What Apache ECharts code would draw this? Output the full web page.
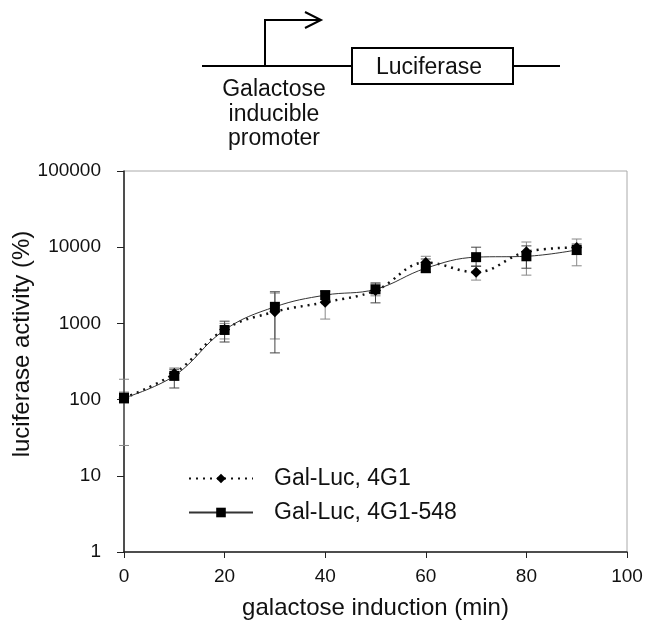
<!DOCTYPE html>
<html>
<head>
<meta charset="utf-8">
<script src="https://cdn.jsdelivr.net/npm/echarts@6/dist/echarts.min.js"></script>
<style>
  html, body { margin: 0; padding: 0; background: #fff; }
  #chart { width: 647px; height: 623px; }
</style>
</head>
<body>
<div id="chart"></div>
<script>
// Data
const minutes = [0, 10, 20, 30, 40, 50, 60, 70, 80, 90];
const gal4G1 = [105, 220, 830, 1420, 1900, 2700, 6300, 4700, 8700, 9900];
const gal4G1Low = [25, 180, 625, 625, 1140, 2300, 4700, 3700, 4300, 5700];
const gal4G1High = [185, 260, 1000, 2500, 2650, 3300, 7600, 5700, 11700, 12800];
const gal548 = [105, 205, 820, 1650, 2350, 2800, 5300, 7400, 7600, 9200];
const gal548Low = [90, 142, 570, 410, 1900, 1860, 4700, 5600, 5300, 8000];
const gal548High = [125, 250, 1070, 2600, 2650, 3400, 7000, 10000, 10400, 11000];
const xTicks = [0, 20, 40, 60, 80, 100];
const yTicks = [1, 10, 100, 1000, 10000, 100000];

const FONT = 'Liberation Sans';
const BIG = '23px "Liberation Sans"';

function pairs(ys) {
    return minutes.map((m, i) => [m, ys[i]]);
}

function errorSeries(low, high, color) {
    return {
        type: 'custom',
        silent: true,
        z: 1,
        data: minutes.map((m, i) => [m, low[i], high[i]]),
        renderItem: function (params, api) {
            const top = api.coord([api.value(0), api.value(2)]);
            const bot = api.coord([api.value(0), api.value(1)]);
            const w = 5;
            const style = { stroke: color, lineWidth: 1 };
            return {
                type: 'group',
                children: [
                    { type: 'line', shape: { x1: top[0], y1: top[1], x2: bot[0], y2: bot[1] }, style: style },
                    { type: 'line', shape: { x1: top[0] - w, y1: top[1], x2: top[0] + w, y2: top[1] }, style: style },
                    { type: 'line', shape: { x1: bot[0] - w, y1: bot[1], x2: bot[0] + w, y2: bot[1] }, style: style }
                ]
            };
        }
    };
}

const chart = echarts.init(document.getElementById('chart'));

chart.setOption({
    backgroundColor: '#fff',
    animation: false,
    grid: {
        left: 124, right: 20, top: 171, bottom: 71,
        outerBoundsMode: 'none',
        containLabel: false,
        show: true, borderColor: '#aaa', borderWidth: 1
    },
    xAxis: {
        type: 'value',
        min: 0, max: 100, interval: 20,
        name: 'galactose induction (min)',
        nameLocation: 'middle',
        nameGap: 44,
        nameTextStyle: { fontFamily: FONT, fontSize: 24, color: '#111' },
        axisLine: { show: true, lineStyle: { color: '#222', width: 1.5 } },
        axisTick: { show: true, length: 6, lineStyle: { color: '#222' } },
        splitLine: { show: false },
        axisLabel: {
            fontFamily: FONT, fontSize: 19, color: '#111', margin: 15,
            formatter: v => xTicks.includes(v) ? String(v) : ''
        }
    },
    yAxis: {
        type: 'log',
        logBase: 10,
        min: 1, max: 100000,
        axisLine: { show: true, lineStyle: { color: '#222', width: 1.5 } },
        axisTick: { show: true, length: 7, lineStyle: { color: '#222' } },
        splitLine: { show: false },
        axisLabel: {
            fontFamily: FONT, fontSize: 19, color: '#111', margin: 23,
            formatter: v => {
                const r = Math.round(v);
                return yTicks.includes(r) ? String(r) : '';
            }
        }
    },
    legend: {
        orient: 'vertical',
        left: 183,
        top: 462,
        itemWidth: 64,
        itemHeight: 12,
        itemGap: 11,
        textStyle: { fontFamily: FONT, fontSize: 23, color: '#111', padding: [0, 0, 0, 16] },
        data: ['Gal-Luc, 4G1', 'Gal-Luc, 4G1-548']
    },
    graphic: [
        // y axis title (sits a bit above the grid's middle in the original)
        { type: 'text', x: 22, y: 344, rotation: Math.PI / 2,
          style: { text: 'luciferase activity (%)', font: '24px "Liberation Sans"', fill: '#111', align: 'center', verticalAlign: 'middle' } },
        // promoter / luciferase construct diagram
        { type: 'line', shape: { x1: 202, y1: 66, x2: 352, y2: 66 }, style: { stroke: '#000', lineWidth: 2 } },
        { type: 'line', shape: { x1: 513, y1: 66, x2: 560, y2: 66 }, style: { stroke: '#000', lineWidth: 2 } },
        { type: 'rect', shape: { x: 352, y: 48, width: 161, height: 36 }, style: { stroke: '#000', lineWidth: 2, fill: '#fff' } },
        { type: 'text', x: 429, y: 68, style: { text: 'Luciferase', font: BIG, fill: '#111', align: 'center', verticalAlign: 'middle' } },
        { type: 'polyline', shape: { points: [[265, 66], [265, 20], [321, 20]] }, style: { stroke: '#000', lineWidth: 2, fill: null } },
        { type: 'polyline', shape: { points: [[305, 12], [321, 20], [305, 28]] }, style: { stroke: '#000', lineWidth: 2, fill: null } },
        { type: 'text', x: 274, y: 90, style: { text: 'Galactose', font: BIG, fill: '#111', align: 'center', verticalAlign: 'middle' } },
        { type: 'text', x: 274, y: 115, style: { text: 'inducible', font: BIG, fill: '#111', align: 'center', verticalAlign: 'middle' } },
        { type: 'text', x: 274, y: 139, style: { text: 'promoter', font: BIG, fill: '#111', align: 'center', verticalAlign: 'middle' } }
    ],
    series: [
        errorSeries(gal4G1Low, gal4G1High, '#888'),
        errorSeries(gal548Low, gal548High, '#444'),
        {
            name: 'Gal-Luc, 4G1',
            type: 'line',
            data: pairs(gal4G1),
            smooth: 0.4,
            symbol: 'diamond',
            symbolSize: 11,
            z: 3,
            itemStyle: { color: '#000' },
            lineStyle: { color: '#111', width: 2.5, type: [2, 5] }
        },
        {
            name: 'Gal-Luc, 4G1-548',
            type: 'line',
            data: pairs(gal548),
            smooth: 0.4,
            symbol: 'rect',
            symbolSize: 10,
            z: 3,
            itemStyle: { color: '#000' },
            lineStyle: { color: '#333', width: 1 }
        }
    ]
});
</script>
</body>
</html>
